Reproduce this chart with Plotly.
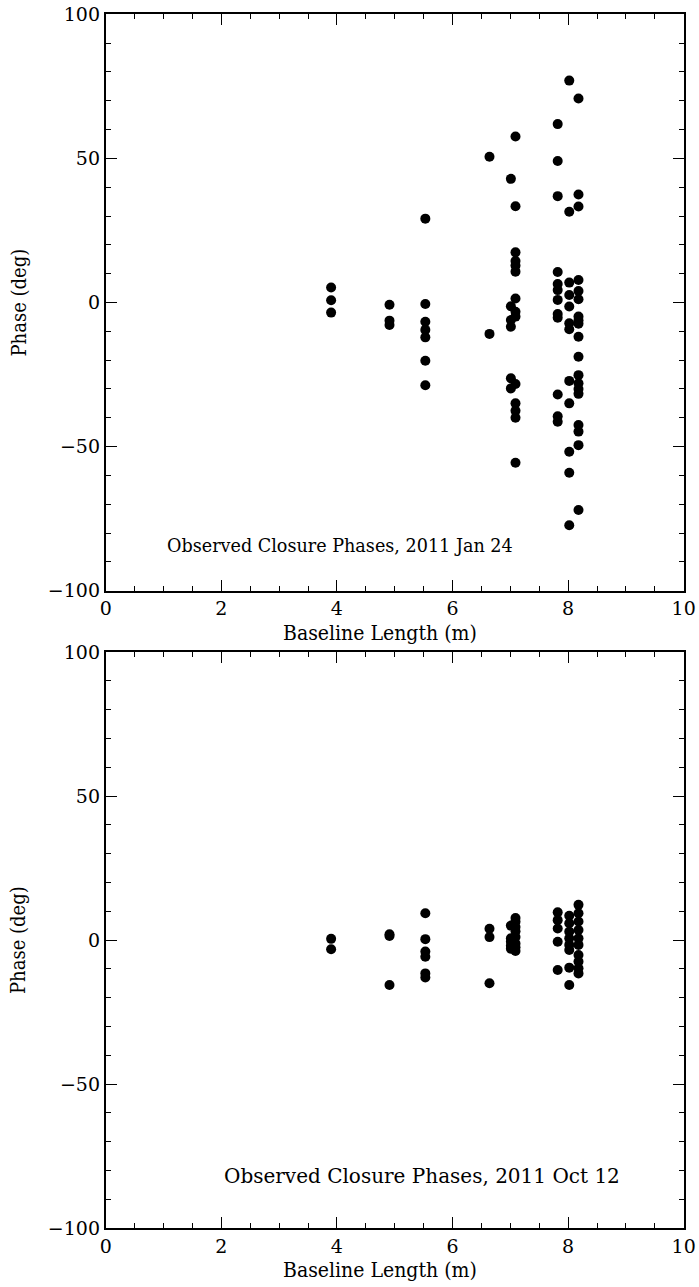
import plotly.graph_objects as go

# ---- data: top panel (2011 Jan 24) ----
jan_x_cols = [3.90, 4.91, 5.53, 6.64, 7.01, 7.09, 7.82, 8.02, 8.18]
jan_phases = [
    [5.2, 0.8, -3.5],
    [-0.8, -6.3, -7.8],
    [29.1, -0.5, -6.7, -9.5, -12.1, -20.2, -28.7],
    [50.6, -10.9],
    [42.9, -1.3, -6.1, -8.4, -26.3, -29.8],
    [57.6, 33.4, 17.4, 14.4, 12.8, 10.7, 1.4, -3.2, -4.9, -28.3, -35.0, -37.6, -40.0, -55.6],
    [61.9, 49.1, 36.9, 10.6, 6.4, 4.3, 0.9, -4.0, -5.3, -31.9, -39.5, -41.4],
    [77.0, 31.5, 6.9, 2.6, -1.4, -7.2, -9.3, -27.2, -35.0, -51.8, -59.1, -77.3],
    [70.8, 37.5, 33.3, 7.8, 4.0, 1.1, -4.9, -6.2, -7.4, -11.9, -18.8, -25.2,
     -28.0, -30.0, -31.7, -42.5, -44.8, -49.5, -72.0],
]

# ---- data: bottom panel (2011 Oct 12) ----
oct_x_cols = [3.90, 4.91, 5.53, 6.64, 7.01, 7.09, 7.82, 8.02, 8.18]
oct_phases = [
    [0.4, -3.2],
    [1.4, 2.0, -15.6],
    [9.3, 0.3, -4.0, -5.8, -11.6, -13.0],
    [3.9, 1.0, -15.0],
    [5.0, 0.6, -0.6, -2.0, -3.0],
    [7.6, 6.3, 4.5, 3.0, 1.0, -1.2, -2.5, -3.8],
    [9.6, 6.9, 4.0, -0.6, -10.4],
    [8.4, 5.8, 2.9, 0.6, -1.7, -3.5, -9.6, -15.6],
    [12.2, 9.3, 6.4, 3.5, 0.6, -1.7, -5.2, -7.5, -9.8, -11.6],
]

titles = ["Observed Closure Phases, 2011 Jan 24", "Observed Closure Phases, 2011 Oct 12"]
x_ticks = [0, 2, 4, 6, 8, 10]
y_ticks = [-100, -50, 0, 50, 100]


def flatten(xcols, phases):
    xs, ys = [], []
    for xc, ph in zip(xcols, phases):
        for p in ph:
            xs.append(xc)
            ys.append(p)
    return xs, ys


FONT = "DejaVu Serif Condensed, DejaVu Serif, serif"
FONT_N = "DejaVu Serif, serif"
W, H = 699, 1287

fig = go.Figure()
jx, jy = flatten(jan_x_cols, jan_phases)
ox, oy = flatten(oct_x_cols, oct_phases)
marker = dict(color="black", size=10, line=dict(width=0))
fig.add_trace(go.Scatter(x=jx, y=jy, mode="markers", marker=marker, xaxis="x", yaxis="y", showlegend=False))
fig.add_trace(go.Scatter(x=ox, y=oy, mode="markers", marker=marker, xaxis="x2", yaxis="y2", showlegend=False))

xl, xr = 105.7 / W, 683.7 / W
top_dom = [1 - 590.7 / H, 1 - 14.3 / H]
bot_dom = [1 - 1228.0 / H, 1 - 652.0 / H]

def xaxis(anchor):
    return dict(
        domain=[xl, xr], range=[0, 10], anchor=anchor, automargin=False,
        tickvals=x_ticks, ticks="inside", ticklen=11, tickwidth=1.3, tickcolor="black",
        minor=dict(dtick=0.5, tick0=0, ticks="inside", ticklen=5, tickwidth=1.3, tickcolor="black"),
        showline=True, linecolor="black", linewidth=1.8, mirror="allticks",
        showgrid=False, zeroline=False,
        tickfont=dict(family=FONT_N, size=19, color="black"),
    )

def yaxis(dom, anchor):
    return dict(
        domain=dom, range=[-100, 100], anchor=anchor, automargin=False,
        tickvals=y_ticks, ticks="inside", ticklen=11, tickwidth=1.3, tickcolor="black",
        minor=dict(dtick=10, tick0=0, ticks="inside", ticklen=5, tickwidth=1.3, tickcolor="black"),
        showline=True, linecolor="black", linewidth=1.8, mirror="allticks",
        showgrid=False, zeroline=False,
        tickfont=dict(family=FONT_N, size=19, color="black"),
    )

annotations = []
for i, (ydom, xa, ya) in enumerate([(top_dom, "x", "y"), (bot_dom, "x2", "y2")]):
    ymid = (ydom[0] + ydom[1]) / 2
    annotations.append(dict(text="Phase (deg)", textangle=-90, xref="paper", yref="paper",
                            x=18 / W, y=ymid, showarrow=False, xanchor="center", yanchor="middle",
                            font=dict(family=FONT, size=20, color="black")))
    annotations.append(dict(text="Baseline Length (m)", xref="paper", yref="paper",
                            x=380 / W, y=ydom[0] - 42 / H, showarrow=False,
                            xanchor="center", yanchor="middle",
                            font=dict(family=FONT, size=21, color="black")))

annotations.append(dict(text=titles[0], xref="x", yref="y", x=1.03, y=-84.5, showarrow=False,
                        xanchor="left", yanchor="middle", font=dict(family=FONT_N, size=17.6, color="black")))
annotations.append(dict(text=titles[1], xref="x2", yref="y2", x=2.01, y=-82, showarrow=False,
                        xanchor="left", yanchor="middle", font=dict(family=FONT_N, size=20, color="black")))

fig.update_layout(
    width=W, height=H,
    margin=dict(l=0, r=0, t=0, b=0, pad=0, autoexpand=False),
    paper_bgcolor="white", plot_bgcolor="white",
    xaxis=xaxis("y"), yaxis=yaxis(top_dom, "x"),
    xaxis2=xaxis("y2"), yaxis2=yaxis(bot_dom, "x2"),
    annotations=annotations,
    font=dict(family=FONT_N, color="black"),
)

fig.write_html("out.html")
